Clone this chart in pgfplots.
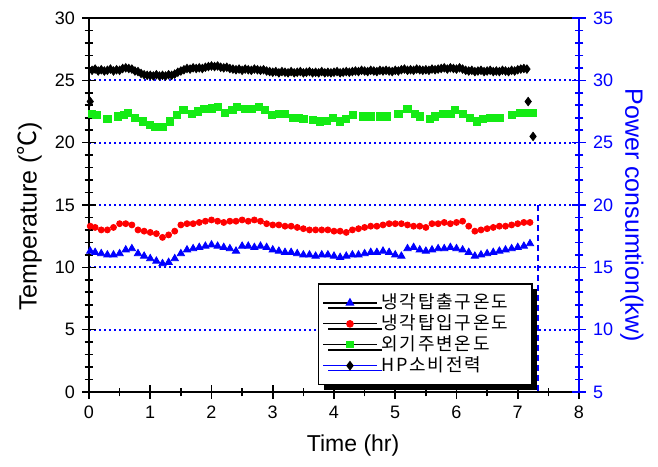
\documentclass[border=0pt]{standalone}
\usepackage{pgfplots}
\pgfplotsset{compat=1.18}
\usepackage{fontspec}
\setmainfont{Liberation Sans}
\newfontfamily\kr{Noto Sans CJK KR}[LetterSpace=10]
\newfontfamily\krn{Noto Sans CJK KR}
\usetikzlibrary{shadows,calc}
\definecolor{lime}{RGB}{20,235,20}
\begin{document}
\begin{tikzpicture}
\begin{axis}[name=ax, scale only axis, width=245pt, height=187pt, xmin=0, xmax=8,
  ymin=0, ymax=30, clip=false,
  xtick={0,...,8}, minor x tick num=1,
  ytick={0,5,...,30}, minor y tick num=4,
  xtick pos=bottom, ytick pos=left,
  tick align=center, major tick length=7pt, minor tick length=4.4pt,
  tick style={black, line width=0.8pt},
  axis line style={line width=0.9pt},
  /pgf/number format/assume math mode=true,
  tick label style={font=\fontsize{9}{10}\selectfont},
  ymajorgrids,
  major grid style={blue, line width=0.9pt, dash pattern=on 0.9pt off 1.6pt},
  xlabel={Time (hr)},
  xlabel style={at={(axis description cs:0.539,-0.142)}, anchor=center, font=\fontsize{11.5}{13}\selectfont},
  ylabel={Temperature ({\krn ℃})},
  ylabel style={at={(axis description cs:-0.121,0.47)}, anchor=center, font=\fontsize{12.5}{14}\selectfont},
]
% green: outside ambient temperature
\addplot[only marks, mark=square*, mark size=1.8pt, color=lime] coordinates {
(0.05,22.3)(0.12,22.2)(0.3,21.9)(0.47,22.1)(0.57,22.2)(0.64,22.4)(0.75,22.0)(0.88,21.7)(1.0,21.4)(1.08,21.25)(1.21,21.25)(1.32,21.7)(1.44,22.2)(1.54,22.6)(1.68,22.3)(1.78,22.5)(1.87,22.7)(2.0,22.75)(2.1,22.9)(2.22,22.4)(2.34,22.6)(2.42,22.9)(2.55,22.7)(2.66,22.7)(2.77,22.9)(2.87,22.6)(2.98,22.2)(3.1,22.3)(3.2,22.3)(3.33,22.0)(3.43,22.0)(3.5,21.9)(3.66,21.8)(3.77,21.7)(3.88,21.75)(3.98,22.0)(4.1,21.7)(4.2,21.9)(4.31,22.2)(4.47,22.1)(4.6,22.1)(4.75,22.1)(4.86,22.1)(5.05,22.3)(5.2,22.7)(5.32,22.3)(5.4,22.1)(5.57,21.9)(5.65,22.1)(5.78,22.3)(5.9,22.3)(5.98,22.6)(6.1,22.3)(6.22,22.0)(6.33,21.7)(6.43,21.9)(6.55,22.0)(6.65,22.0)(6.71,22.0)(6.9,22.2)(7.04,22.4)(7.14,22.4)(7.25,22.4)
};
% red: cooling tower inlet
\addplot[only marks, mark=*, mark size=1.5pt, color=red] coordinates {
(0.02,13.3)(0.1,13.2)(0.2,13.0)(0.3,13.0)(0.4,13.2)(0.5,13.5)(0.6,13.5)(0.7,13.4)(0.8,13.0)(0.9,12.9)(1.0,12.8)(1.1,12.7)(1.2,12.4)(1.3,12.6)(1.4,12.9)(1.5,13.4)(1.6,13.5)(1.7,13.5)(1.8,13.6)(1.9,13.7)(2.0,13.8)(2.1,13.7)(2.2,13.6)(2.3,13.7)(2.4,13.7)(2.5,13.8)(2.6,13.7)(2.7,13.8)(2.8,13.7)(2.9,13.5)(3.0,13.4)(3.1,13.4)(3.2,13.3)(3.3,13.3)(3.4,13.2)(3.5,13.1)(3.6,13.0)(3.7,13.0)(3.8,13.0)(3.9,13.0)(4.0,12.9)(4.1,12.9)(4.2,12.8)(4.3,13.0)(4.4,13.1)(4.5,13.2)(4.6,13.3)(4.7,13.3)(4.8,13.4)(4.9,13.5)(5.0,13.5)(5.1,13.5)(5.2,13.4)(5.3,13.3)(5.4,13.3)(5.5,13.2)(5.6,13.5)(5.7,13.5)(5.8,13.6)(5.9,13.5)(6.0,13.6)(6.1,13.7)(6.2,13.3)(6.3,12.9)(6.4,13.0)(6.5,13.1)(6.6,13.2)(6.7,13.3)(6.8,13.3)(6.9,13.4)(7.0,13.5)(7.1,13.6)(7.2,13.6)
};
% blue: cooling tower outlet
\addplot[only marks, mark=triangle*, mark size=2.1pt, color=blue] coordinates {
(0.02,11.3)(0.1,11.2)(0.2,11.1)(0.3,11.0)(0.4,11.0)(0.5,11.1)(0.6,11.4)(0.7,11.5)(0.8,11.1)(0.9,10.9)(1.0,10.7)(1.1,10.5)(1.2,10.3)(1.3,10.4)(1.4,10.7)(1.5,11.1)(1.6,11.4)(1.7,11.5)(1.8,11.6)(1.9,11.7)(2.0,11.8)(2.1,11.7)(2.2,11.6)(2.3,11.5)(2.4,11.3)(2.5,11.7)(2.6,11.7)(2.7,11.6)(2.8,11.7)(2.9,11.6)(3.0,11.4)(3.1,11.3)(3.2,11.2)(3.3,11.2)(3.4,11.1)(3.5,11.0)(3.6,11.0)(3.7,10.9)(3.8,11.0)(3.9,11.0)(4.0,10.9)(4.1,10.8)(4.2,10.9)(4.3,11.0)(4.4,11.0)(4.5,11.1)(4.6,11.2)(4.7,11.2)(4.8,11.3)(4.9,11.2)(5.0,11.0)(5.1,10.9)(5.2,11.5)(5.3,11.6)(5.4,11.4)(5.5,11.3)(5.6,11.4)(5.7,11.5)(5.8,11.5)(5.9,11.6)(6.0,11.5)(6.1,11.4)(6.2,11.2)(6.3,10.9)(6.4,11.0)(6.5,11.1)(6.6,11.2)(6.7,11.3)(6.8,11.4)(6.9,11.5)(7.0,11.6)(7.1,11.7)(7.2,11.9)
};
\end{axis}
\begin{axis}[scale only axis, width=245pt, height=187pt, xmin=0, xmax=8,
  ymin=5, ymax=35, clip=false,
  axis x line=none, axis y line*=right,
  ytick={5,10,...,35}, minor y tick num=4,
  tick align=center, major tick length=7pt, minor tick length=4.4pt,
  tick style={blue, line width=0.8pt},
  /pgf/number format/assume math mode=true,
  tick label style={font=\fontsize{9}{10}\selectfont},
  y axis line style={blue, line width=0.9pt},
  yticklabel style={blue},
  ylabel={Power consumtion(kw)},
  ylabel style={blue, at={(axis description cs:1.108,0.473)}, anchor=center, rotate=180, font=\fontsize{12.5}{14}\selectfont},
  legend cell align=left,
  legend style={at={(rel axis cs:0.467,0.291)}, anchor=north west,
    draw=black, line width=0.8pt, fill=white,
    drop shadow={shadow xshift=2.5pt, shadow yshift=-2.5pt, fill=black, opacity=1},
    font=\fontsize{9}{10}\selectfont, row sep=-2.5pt, inner xsep=2pt, inner ysep=3pt},
  legend image code/.code={\draw[mark repeat=2, mark phase=2, line width=0.6pt, #1] plot coordinates {(0cm,0cm) (0.47cm,0cm) (0.94cm,0cm)};},
]
\addlegendimage{black, mark=triangle*, mark options={blue, mark size=2pt}}
\addlegendentry{\kr 냉각탑출구온도\rule{8pt}{0pt}}
\addlegendimage{black, mark=*, mark options={red, mark size=1.6pt}}
\addlegendentry{\kr 냉각탑입구온도\rule{8pt}{0pt}}
\addlegendimage{black, mark=square*, mark options={lime, mark size=1.5pt}}
\addlegendentry{\kr 외기주변온도}
\addlegendimage{blue, mark=diamond*, mark options={black, mark size=2pt}}
\addlegendentry{\kr HP소비전력}
\addplot[blue, line width=0.8pt, dash pattern=on 3pt off 2pt, forget plot] coordinates {(7.33,20)(7.33,5)};
\addplot[only marks, mark=diamond*, mark size=2.1pt, color=black, forget plot] coordinates {
(0.02,28.3)(0.05,30.8)(0.10,30.9)(0.15,30.75)(0.20,30.85)(0.25,30.75)(0.30,30.8)(0.35,30.9)(0.40,30.75)(0.45,30.85)(0.50,30.8)(0.55,30.95)(0.60,31.0)(0.65,30.95)(0.70,30.9)(0.75,30.75)(0.80,30.7)(0.85,30.55)(0.90,30.45)(0.95,30.4)(1.00,30.4)(1.05,30.35)(1.10,30.45)(1.15,30.35)(1.20,30.4)(1.25,30.35)(1.30,30.45)(1.35,30.4)(1.40,30.5)(1.45,30.65)(1.50,30.75)(1.55,30.85)(1.60,30.95)(1.65,30.9)(1.70,31.0)(1.75,30.95)(1.80,31.0)(1.85,30.95)(1.90,31.05)(1.95,31.1)(2.00,31.15)(2.05,31.1)(2.10,31.15)(2.15,31.05)(2.20,31.0)(2.25,31.05)(2.30,30.95)(2.35,30.9)(2.40,30.85)(2.45,30.9)(2.50,30.8)(2.55,30.9)(2.60,30.85)(2.65,30.8)(2.70,30.9)(2.75,30.85)(2.80,30.8)(2.85,30.85)(2.90,30.75)(2.95,30.7)(3.00,30.65)(3.05,30.7)(3.10,30.6)(3.15,30.7)(3.20,30.65)(3.25,30.6)(3.30,30.7)(3.35,30.6)(3.40,30.65)(3.45,30.7)(3.50,30.6)(3.55,30.65)(3.60,30.7)(3.65,30.6)(3.70,30.65)(3.75,30.6)(3.80,30.7)(3.85,30.6)(3.90,30.65)(3.95,30.6)(4.00,30.65)(4.05,30.7)(4.10,30.6)(4.15,30.65)(4.20,30.7)(4.25,30.65)(4.30,30.7)(4.35,30.75)(4.40,30.7)(4.45,30.8)(4.50,30.75)(4.55,30.7)(4.60,30.8)(4.65,30.75)(4.70,30.7)(4.75,30.8)(4.80,30.75)(4.85,30.8)(4.90,30.75)(4.95,30.7)(5.00,30.8)(5.05,30.75)(5.10,30.85)(5.15,30.9)(5.20,30.8)(5.25,30.85)(5.30,30.8)(5.35,30.9)(5.40,30.85)(5.45,30.8)(5.50,30.85)(5.55,30.8)(5.60,30.9)(5.65,30.85)(5.70,30.9)(5.75,30.95)(5.80,31.0)(5.85,30.9)(5.90,31.0)(5.95,30.95)(6.00,30.9)(6.05,31.0)(6.10,30.9)(6.15,30.8)(6.20,30.75)(6.25,30.8)(6.30,30.7)(6.35,30.75)(6.40,30.8)(6.45,30.7)(6.50,30.75)(6.55,30.8)(6.60,30.7)(6.65,30.75)(6.70,30.7)(6.75,30.8)(6.80,30.75)(6.85,30.7)(6.90,30.8)(6.95,30.75)(7.00,30.85)(7.05,30.9)(7.10,30.95)(7.15,30.9)(7.17,28.3)(7.25,25.5)
};
\end{axis}
\pgfresetboundingbox
\path ($(ax.south west)+(-44.5pt,-37.5pt)$) rectangle ($(ax.north east)+(39.5pt,9pt)$);
\end{tikzpicture}
\end{document}
